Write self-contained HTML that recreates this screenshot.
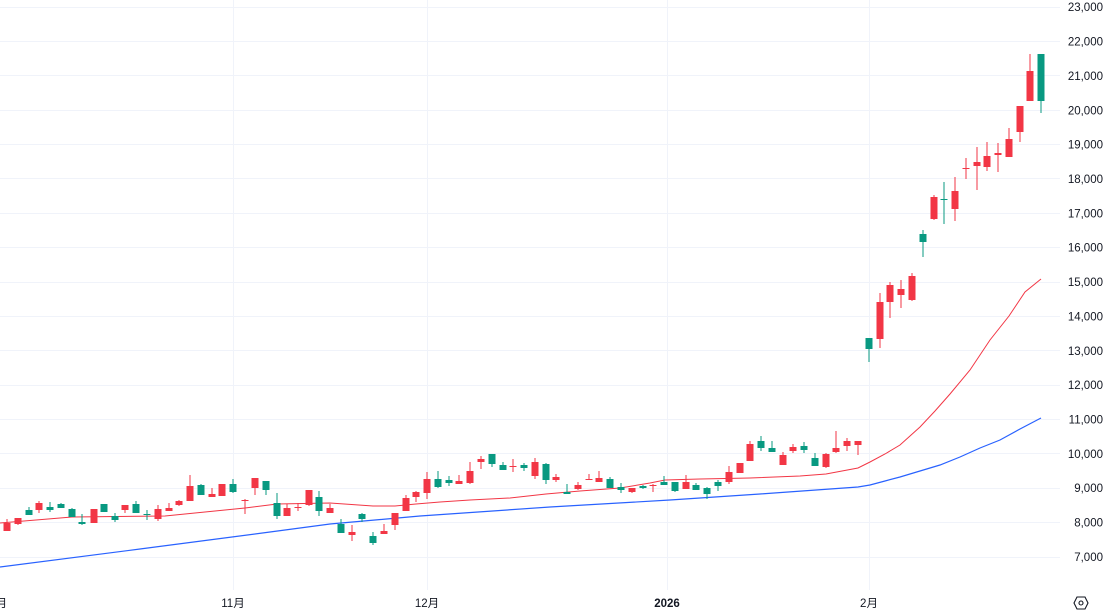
<!DOCTYPE html>
<html><head><meta charset="utf-8"><style>
html,body{margin:0;padding:0;background:#fff;width:1108px;height:613px;overflow:hidden}
svg{display:block}
text{font-family:"Liberation Sans","Noto Sans CJK JP",sans-serif;fill:#131722;font-size:11.5px}
</style></head><body>
<svg width="1108" height="613" viewBox="0 0 1108 613" xmlns="http://www.w3.org/2000/svg">
<g stroke="#f0f3fa" stroke-width="1" shape-rendering="crispEdges">
<line x1="0" x2="1060" y1="7.5" y2="7.5"/><line x1="0" x2="1060" y1="41.5" y2="41.5"/><line x1="0" x2="1060" y1="75.5" y2="75.5"/><line x1="0" x2="1060" y1="110.5" y2="110.5"/><line x1="0" x2="1060" y1="144.5" y2="144.5"/><line x1="0" x2="1060" y1="178.5" y2="178.5"/><line x1="0" x2="1060" y1="213.5" y2="213.5"/><line x1="0" x2="1060" y1="247.5" y2="247.5"/><line x1="0" x2="1060" y1="282.5" y2="282.5"/><line x1="0" x2="1060" y1="316.5" y2="316.5"/><line x1="0" x2="1060" y1="350.5" y2="350.5"/><line x1="0" x2="1060" y1="385.5" y2="385.5"/><line x1="0" x2="1060" y1="419.5" y2="419.5"/><line x1="0" x2="1060" y1="453.5" y2="453.5"/><line x1="0" x2="1060" y1="488.5" y2="488.5"/><line x1="0" x2="1060" y1="522.5" y2="522.5"/><line x1="0" x2="1060" y1="557.5" y2="557.5"/>
<line x1="233.5" x2="233.5" y1="0" y2="590"/><line x1="427.5" x2="427.5" y1="0" y2="590"/><line x1="667.5" x2="667.5" y1="0" y2="590"/><line x1="869.5" x2="869.5" y1="0" y2="590"/>
</g>
<polyline fill="none" stroke="#2962ff" stroke-width="1.2" points="0,567 140,549 270,532 330,524 420,516 550,507 670,500 760,494 858,487 870,485 885,481 900,477 920,471 940,465 960,457 980,448 1000,440 1020,429 1041,418"/>
<polyline fill="none" stroke="#f23645" stroke-width="1" points="0,523 72,517 165,516 245,508 277,504 330,503 373,506 395,506 416,504 440,502 470,500 510,498 546,494 580,491 620,488 650,483 665,480 700,479 750,478 800,476 826,474 858,468 870,462 885,454 900,445 920,427 935,411 950,394 970,370 990,340 1009,316 1025,292 1041,279"/>
<g font-size="11.5" text-anchor="end">
<text x="1103" y="11">23,000</text><text x="1103" y="45.5">22,000</text><text x="1103" y="80">21,000</text><text x="1103" y="114.5">20,000</text><text x="1103" y="148.5">19,000</text><text x="1103" y="183">18,000</text><text x="1103" y="217.5">17,000</text><text x="1103" y="251.5">16,000</text><text x="1103" y="286">15,000</text><text x="1103" y="320.5">14,000</text><text x="1103" y="355">13,000</text><text x="1103" y="389">12,000</text><text x="1103" y="423.5">11,000</text><text x="1103" y="458">10,000</text><text x="1103" y="492">9,000</text><text x="1103" y="526.5">8,000</text><text x="1103" y="561">7,000</text>
</g>
<g text-anchor="middle">
<text x="-5" y="607">10月</text><text x="233" y="607">11月</text><text x="427" y="607">12月</text><text x="667" y="607" font-weight="bold">2026</text><text x="869" y="607">2月</text>
</g>
<g transform="translate(1081,603)" fill="none" stroke="#131722" stroke-width="1.1"><polygon points="-4,-6 4,-6 7,0 4,6 -4,6 -7,0"/><circle r="2"/></g>
<g shape-rendering="crispEdges">
<rect x="6.5" y="519" width="1" height="12" fill="#f23645"/><rect x="3.5" y="523" width="7" height="8" fill="#f23645"/>
<rect x="17.5" y="518" width="1" height="7" fill="#f23645"/><rect x="14.5" y="518" width="7" height="6" fill="#f23645"/>
<rect x="28.5" y="507" width="1" height="8" fill="#089981"/><rect x="25.5" y="510" width="7" height="5" fill="#089981"/>
<rect x="38.5" y="501" width="1" height="12" fill="#f23645"/><rect x="35.5" y="503" width="7" height="7" fill="#f23645"/>
<rect x="49.5" y="502" width="1" height="10" fill="#089981"/><rect x="46.5" y="507" width="7" height="3" fill="#089981"/>
<rect x="60.5" y="503" width="1" height="5" fill="#089981"/><rect x="57.5" y="504" width="7" height="4" fill="#089981"/>
<rect x="71.5" y="508" width="1" height="9" fill="#089981"/><rect x="68.5" y="509" width="7" height="8" fill="#089981"/>
<rect x="81.5" y="514" width="1" height="11" fill="#089981"/><rect x="78.5" y="522" width="7" height="2" fill="#089981"/>
<rect x="93.5" y="509" width="1" height="14" fill="#f23645"/><rect x="90.5" y="509" width="7" height="14" fill="#f23645"/>
<rect x="103.5" y="504" width="1" height="8" fill="#089981"/><rect x="100.5" y="504" width="7" height="8" fill="#089981"/>
<rect x="114.5" y="513" width="1" height="9" fill="#089981"/><rect x="111.5" y="516" width="7" height="4" fill="#089981"/>
<rect x="124.5" y="505" width="1" height="8" fill="#f23645"/><rect x="121.5" y="505" width="7" height="5" fill="#f23645"/>
<rect x="135.5" y="501" width="1" height="12" fill="#089981"/><rect x="132.5" y="504" width="7" height="9" fill="#089981"/>
<rect x="146.5" y="510" width="1" height="10" fill="#089981"/><rect x="143.5" y="514" width="7" height="1" fill="#089981"/>
<rect x="157.5" y="505" width="1" height="16" fill="#f23645"/><rect x="154.5" y="509" width="7" height="10" fill="#f23645"/>
<rect x="168.5" y="503" width="1" height="8" fill="#f23645"/><rect x="165.5" y="508" width="7" height="3" fill="#f23645"/>
<rect x="178.5" y="500" width="1" height="6" fill="#f23645"/><rect x="175.5" y="501" width="7" height="4" fill="#f23645"/>
<rect x="189.5" y="475" width="1" height="26" fill="#f23645"/><rect x="186.5" y="486" width="7" height="15" fill="#f23645"/>
<rect x="200.5" y="484" width="1" height="11" fill="#089981"/><rect x="197.5" y="485" width="7" height="10" fill="#089981"/>
<rect x="211.5" y="488" width="1" height="9" fill="#f23645"/><rect x="208.5" y="494" width="7" height="3" fill="#f23645"/>
<rect x="221.5" y="484" width="1" height="12" fill="#f23645"/><rect x="218.5" y="484" width="7" height="12" fill="#f23645"/>
<rect x="232.5" y="479" width="1" height="14" fill="#089981"/><rect x="229.5" y="484" width="7" height="8" fill="#089981"/>
<rect x="244.5" y="499" width="1" height="15" fill="#f23645"/><rect x="241.5" y="500" width="7" height="1" fill="#f23645"/>
<rect x="254.5" y="478" width="1" height="17" fill="#f23645"/><rect x="251.5" y="478" width="7" height="10" fill="#f23645"/>
<rect x="265.5" y="481" width="1" height="14" fill="#089981"/><rect x="262.5" y="481" width="7" height="9" fill="#089981"/>
<rect x="276.5" y="493" width="1" height="26" fill="#089981"/><rect x="273.5" y="503" width="7" height="13" fill="#089981"/>
<rect x="286.5" y="504" width="1" height="12" fill="#f23645"/><rect x="283.5" y="508" width="7" height="8" fill="#f23645"/>
<rect x="297.5" y="503" width="1" height="8" fill="#f23645"/><rect x="294.5" y="507" width="7" height="1" fill="#f23645"/>
<rect x="308.5" y="490" width="1" height="16" fill="#f23645"/><rect x="305.5" y="490" width="7" height="15" fill="#f23645"/>
<rect x="318.5" y="491" width="1" height="25" fill="#089981"/><rect x="315.5" y="497" width="7" height="14" fill="#089981"/>
<rect x="329.5" y="504" width="1" height="9" fill="#f23645"/><rect x="326.5" y="508" width="7" height="5" fill="#f23645"/>
<rect x="340.5" y="519" width="1" height="14" fill="#089981"/><rect x="337.5" y="524" width="7" height="9" fill="#089981"/>
<rect x="351.5" y="525" width="1" height="16" fill="#f23645"/><rect x="348.5" y="532" width="7" height="3" fill="#f23645"/>
<rect x="361.5" y="513" width="1" height="9" fill="#089981"/><rect x="358.5" y="514" width="7" height="5" fill="#089981"/>
<rect x="372.5" y="532" width="1" height="13" fill="#089981"/><rect x="369.5" y="536" width="7" height="7" fill="#089981"/>
<rect x="383.5" y="524" width="1" height="10" fill="#f23645"/><rect x="380.5" y="531" width="7" height="3" fill="#f23645"/>
<rect x="394.5" y="513" width="1" height="17" fill="#f23645"/><rect x="391.5" y="513" width="7" height="12" fill="#f23645"/>
<rect x="405.5" y="495" width="1" height="16" fill="#f23645"/><rect x="402.5" y="498" width="7" height="13" fill="#f23645"/>
<rect x="415.5" y="491" width="1" height="11" fill="#f23645"/><rect x="412.5" y="492" width="7" height="5" fill="#f23645"/>
<rect x="426.5" y="472" width="1" height="27" fill="#f23645"/><rect x="423.5" y="479" width="7" height="14" fill="#f23645"/>
<rect x="437.5" y="471" width="1" height="17" fill="#089981"/><rect x="434.5" y="479" width="7" height="8" fill="#089981"/>
<rect x="448.5" y="476" width="1" height="10" fill="#089981"/><rect x="445.5" y="480" width="7" height="3" fill="#089981"/>
<rect x="458.5" y="475" width="1" height="9" fill="#f23645"/><rect x="455.5" y="481" width="7" height="3" fill="#f23645"/>
<rect x="469.5" y="462" width="1" height="22" fill="#f23645"/><rect x="466.5" y="471" width="7" height="12" fill="#f23645"/>
<rect x="480.5" y="456" width="1" height="13" fill="#f23645"/><rect x="477.5" y="459" width="7" height="3" fill="#f23645"/>
<rect x="491.5" y="454" width="1" height="13" fill="#089981"/><rect x="488.5" y="454" width="7" height="10" fill="#089981"/>
<rect x="502.5" y="462" width="1" height="8" fill="#089981"/><rect x="499.5" y="465" width="7" height="5" fill="#089981"/>
<rect x="512.5" y="459" width="1" height="13" fill="#f23645"/><rect x="509.5" y="466" width="7" height="1" fill="#f23645"/>
<rect x="523.5" y="463" width="1" height="8" fill="#089981"/><rect x="520.5" y="465" width="7" height="3" fill="#089981"/>
<rect x="534.5" y="458" width="1" height="21" fill="#f23645"/><rect x="531.5" y="462" width="7" height="14" fill="#f23645"/>
<rect x="545.5" y="463" width="1" height="21" fill="#089981"/><rect x="542.5" y="464" width="7" height="16" fill="#089981"/>
<rect x="555.5" y="474" width="1" height="8" fill="#f23645"/><rect x="552.5" y="477" width="7" height="3" fill="#f23645"/>
<rect x="566.5" y="484" width="1" height="10" fill="#089981"/><rect x="563.5" y="492" width="7" height="2" fill="#089981"/>
<rect x="577.5" y="482" width="1" height="8" fill="#f23645"/><rect x="574.5" y="485" width="7" height="4" fill="#f23645"/>
<rect x="588.5" y="474" width="1" height="6" fill="#f23645"/><rect x="585.5" y="479" width="7" height="1" fill="#f23645"/>
<rect x="598.5" y="471" width="1" height="11" fill="#f23645"/><rect x="595.5" y="478" width="7" height="4" fill="#f23645"/>
<rect x="609.5" y="477" width="1" height="11" fill="#089981"/><rect x="606.5" y="479" width="7" height="9" fill="#089981"/>
<rect x="620.5" y="483" width="1" height="10" fill="#089981"/><rect x="617.5" y="487" width="7" height="3" fill="#089981"/>
<rect x="631.5" y="488" width="1" height="5" fill="#f23645"/><rect x="628.5" y="488" width="7" height="4" fill="#f23645"/>
<rect x="642.5" y="485" width="1" height="4" fill="#089981"/><rect x="639.5" y="486" width="7" height="2" fill="#089981"/>
<rect x="652.5" y="484" width="1" height="8" fill="#f23645"/><rect x="649.5" y="485" width="7" height="1" fill="#f23645"/>
<rect x="663.5" y="476" width="1" height="9" fill="#089981"/><rect x="660.5" y="482" width="7" height="3" fill="#089981"/>
<rect x="674.5" y="482" width="1" height="10" fill="#089981"/><rect x="671.5" y="482" width="7" height="9" fill="#089981"/>
<rect x="685.5" y="475" width="1" height="14" fill="#f23645"/><rect x="682.5" y="482" width="7" height="7" fill="#f23645"/>
<rect x="695.5" y="483" width="1" height="7" fill="#089981"/><rect x="692.5" y="485" width="7" height="5" fill="#089981"/>
<rect x="706.5" y="487" width="1" height="12" fill="#089981"/><rect x="703.5" y="488" width="7" height="6" fill="#089981"/>
<rect x="717.5" y="480" width="1" height="11" fill="#089981"/><rect x="714.5" y="482" width="7" height="4" fill="#089981"/>
<rect x="728.5" y="466" width="1" height="18" fill="#f23645"/><rect x="725.5" y="472" width="7" height="10" fill="#f23645"/>
<rect x="739.5" y="463" width="1" height="10" fill="#f23645"/><rect x="736.5" y="463" width="7" height="10" fill="#f23645"/>
<rect x="749.5" y="441" width="1" height="20" fill="#f23645"/><rect x="746.5" y="444" width="7" height="17" fill="#f23645"/>
<rect x="760.5" y="436" width="1" height="15" fill="#089981"/><rect x="757.5" y="441" width="7" height="7" fill="#089981"/>
<rect x="771.5" y="441" width="1" height="11" fill="#089981"/><rect x="768.5" y="448" width="7" height="4" fill="#089981"/>
<rect x="782.5" y="452" width="1" height="13" fill="#f23645"/><rect x="779.5" y="455" width="7" height="10" fill="#f23645"/>
<rect x="792.5" y="444" width="1" height="9" fill="#f23645"/><rect x="789.5" y="447" width="7" height="4" fill="#f23645"/>
<rect x="803.5" y="442" width="1" height="11" fill="#089981"/><rect x="800.5" y="446" width="7" height="4" fill="#089981"/>
<rect x="814.5" y="453" width="1" height="13" fill="#089981"/><rect x="811.5" y="458" width="7" height="8" fill="#089981"/>
<rect x="825.5" y="453" width="1" height="15" fill="#f23645"/><rect x="822.5" y="454" width="7" height="13" fill="#f23645"/>
<rect x="835.5" y="431" width="1" height="22" fill="#f23645"/><rect x="832.5" y="448" width="7" height="4" fill="#f23645"/>
<rect x="846.5" y="438" width="1" height="13" fill="#f23645"/><rect x="843.5" y="441" width="7" height="5" fill="#f23645"/>
<rect x="857.5" y="441" width="1" height="14" fill="#f23645"/><rect x="854.5" y="441" width="7" height="4" fill="#f23645"/>
<rect x="868.5" y="338" width="1" height="24" fill="#089981"/><rect x="865.5" y="338" width="7" height="11" fill="#089981"/>
<rect x="879.5" y="293" width="1" height="55" fill="#f23645"/><rect x="876.5" y="302" width="7" height="37" fill="#f23645"/>
<rect x="889.5" y="282" width="1" height="36" fill="#f23645"/><rect x="886.5" y="285" width="7" height="17" fill="#f23645"/>
<rect x="900.5" y="280" width="1" height="28" fill="#f23645"/><rect x="897.5" y="289" width="7" height="6" fill="#f23645"/>
<rect x="911.5" y="273" width="1" height="28" fill="#f23645"/><rect x="908.5" y="276" width="7" height="24" fill="#f23645"/>
<rect x="922.5" y="230" width="1" height="27" fill="#089981"/><rect x="919.5" y="234" width="7" height="8" fill="#089981"/>
<rect x="933.5" y="195" width="1" height="25" fill="#f23645"/><rect x="930.5" y="197" width="7" height="22" fill="#f23645"/>
<rect x="943.5" y="182" width="1" height="42" fill="#089981"/><rect x="940.5" y="199" width="7" height="1" fill="#089981"/>
<rect x="954.5" y="177" width="1" height="44" fill="#f23645"/><rect x="951.5" y="191" width="7" height="18" fill="#f23645"/>
<rect x="965.5" y="158" width="1" height="21" fill="#f23645"/><rect x="962.5" y="168" width="7" height="1" fill="#f23645"/>
<rect x="976.5" y="147" width="1" height="43" fill="#f23645"/><rect x="973.5" y="162" width="7" height="4" fill="#f23645"/>
<rect x="986.5" y="142" width="1" height="29" fill="#f23645"/><rect x="983.5" y="156" width="7" height="11" fill="#f23645"/>
<rect x="997.5" y="143" width="1" height="29" fill="#f23645"/><rect x="994.5" y="153" width="7" height="2" fill="#f23645"/>
<rect x="1008.5" y="128" width="1" height="29" fill="#f23645"/><rect x="1005.5" y="139" width="7" height="18" fill="#f23645"/>
<rect x="1019.5" y="106" width="1" height="36" fill="#f23645"/><rect x="1016.5" y="106" width="7" height="26" fill="#f23645"/>
<rect x="1029.5" y="54" width="1" height="47" fill="#f23645"/><rect x="1026.5" y="71" width="7" height="30" fill="#f23645"/>
<rect x="1040.5" y="54" width="1" height="59" fill="#089981"/><rect x="1037.5" y="54" width="7" height="47" fill="#089981"/>
</g>
</svg>
</body></html>
